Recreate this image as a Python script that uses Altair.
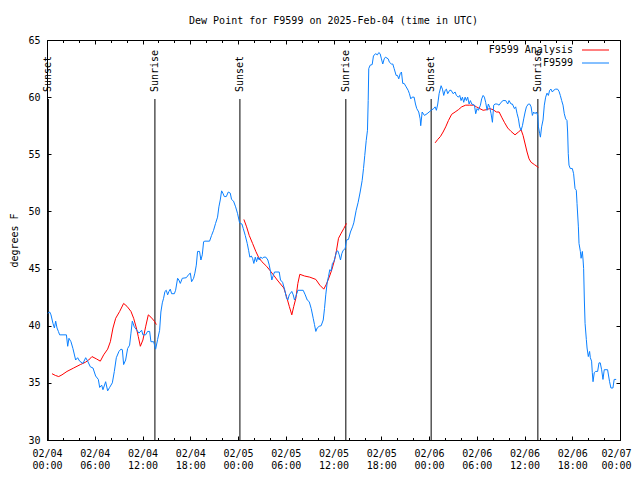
import altair as alt
import pandas as pd

# ---------------- data (hours after 2025-02-04 00:00 UTC, dew point in F) ----------------
obs_hours = [0.09, 0.34, 0.5, 0.75, 0.93, 1.09, 1.26, 1.43, 1.59, 2.44, 2.6, 2.76, 3.01, 3.26, 3.6, 3.85,
             4.1, 4.52, 4.86, 5.11, 5.45, 5.78, 6.11, 6.45, 6.62, 6.87, 7.03, 7.37, 7.62, 7.87, 8.21, 8.46,
             8.71, 9.04, 9.29, 9.47, 9.63, 9.88, 10.13, 10.38, 10.55, 10.72, 10.97, 11.3, 11.55, 11.89, 12.05,
             12.39, 12.64, 12.9, 13.06, 13.4, 13.65, 13.9, 14.15, 14.31, 14.49, 14.65, 14.82, 14.99, 15.16,
             15.32, 15.49, 15.66, 16.0, 16.16, 16.41, 16.57, 16.75, 17.0, 17.5, 17.83, 18.01, 18.17, 18.42,
             18.58, 18.76, 18.92, 19.17, 19.34, 19.51, 19.68, 19.84, 20.43, 20.68, 20.93, 21.18, 21.43, 21.6,
             21.77, 21.94, 22.1, 22.28, 22.53, 22.78, 23.03, 23.19, 23.44, 23.7, 23.95, 24.2, 24.49, 24.66,
             24.91, 25.16, 25.33, 25.49, 25.67, 25.83, 25.99, 26.17, 26.33, 26.49, 26.67, 26.83, 27.08, 27.25,
             27.5, 27.75, 27.93, 28.09, 28.25, 28.43, 28.59, 29.18, 29.34, 29.6, 29.85, 30.1, 30.26, 30.44,
             30.6, 30.76, 30.94, 31.1, 31.27, 31.52, 32.19, 32.45, 32.7, 32.95, 33.2, 33.45, 33.61, 33.78,
             33.95, 34.2, 34.45, 34.71, 34.87, 35.03, 35.21, 35.37, 35.53, 35.71, 35.87, 36.04, 36.21, 36.38,
             36.54, 36.72, 36.88, 37.04, 37.22, 37.47, 37.63, 37.88, 38.13, 38.39, 38.55, 38.85, 39.1, 39.35,
             39.6, 39.77, 39.93, 40.11, 40.27, 40.36, 40.43, 40.61, 40.86, 41.02, 41.27, 41.52, 41.69, 41.86,
             42.02, 42.19, 42.37, 42.53, 42.87, 43.03, 43.28, 43.45, 43.62, 43.87, 44.04, 44.2, 44.38, 44.54,
             44.7, 44.88, 45.13, 45.38, 45.54, 45.71, 45.88, 46.13, 46.3, 46.46, 46.71, 46.89, 46.96, 47.14,
             47.43, 47.76, 48.01, 48.27, 48.59, 48.77, 48.93, 49.1, 49.27, 49.52, 49.69, 49.85, 50.03, 50.19,
             50.35, 50.6, 50.78, 51.03, 51.28, 51.44, 51.69, 51.86, 52.03, 52.2, 52.36, 52.54, 52.7, 52.86,
             53.04, 53.2, 53.37, 53.71, 53.87, 54.04, 54.21, 54.46, 54.62, 54.8, 54.96, 55.12, 55.3, 55.46,
             55.63, 55.8, 55.97, 56.13, 56.3, 56.56, 56.81, 57.06, 57.31, 57.64, 57.89, 58.06, 58.31, 58.48,
             58.73, 58.89, 59.07, 59.24, 59.39, 59.57, 59.74, 59.9, 60.08, 60.24, 60.49, 60.65, 60.83, 60.99,
             61.15, 61.33, 61.49, 61.66, 61.75, 61.91, 62.0, 62.15, 62.33, 62.49, 62.66, 62.83, 63.0, 63.16,
             63.33, 63.5, 63.66, 63.91, 64.16, 64.34, 64.5, 64.67, 64.84, 65.0, 65.17, 65.34, 65.42, 65.5,
             65.59, 65.76, 66.01, 66.17, 66.35, 66.51, 66.6, 66.77, 66.85, 67.02, 67.11, 67.27, 67.36, 67.43,
             67.52, 67.61, 67.77, 67.86, 68.02, 68.18, 68.27, 68.43, 68.52, 68.61, 68.77, 68.94, 69.19, 69.36,
             69.52, 69.69, 69.86, 70.02, 70.44, 70.69, 70.86, 71.11, 71.27, 71.52]
obs_values = [41.1, 41.2, 40.95, 40.2, 39.8, 40.4, 39.8, 39.5, 39.2, 39.2, 38.2, 38.9, 38.6, 38.0, 37.0, 37.2,
              36.9, 36.7, 37.2, 36.9, 36.4, 36.3, 35.6, 35.3, 34.6, 34.8, 34.4, 35.1, 34.3, 34.6, 35.0, 36.0,
              37.2, 37.75, 37.95, 37.9, 36.6, 37.0, 38.0, 38.3, 39.35, 40.4, 39.9, 39.6, 39.35, 39.6, 39.2,
              39.2, 39.5, 39.5, 38.6, 38.6, 37.95, 38.8, 39.6, 41.2, 42.0, 42.4, 43.0, 43.1, 42.7,
              43.0, 43.2, 42.8, 42.8, 43.1, 44.15, 44.0, 43.7, 44.15, 44.2, 44.5, 44.6, 43.85, 44.15,
              44.6, 45.3, 46.5, 46.5, 45.75, 46.2, 47.35, 47.4, 47.4, 47.9, 48.35, 48.95, 49.5, 50.4,
              51.0, 51.8, 51.6, 51.3, 51.3, 51.7, 51.6, 51.05, 50.9, 50.4, 49.8, 49.0, 48.9, 48.5,
              47.9, 47.2, 46.6, 46.0, 46.1, 45.9, 45.45, 46.0, 45.6, 46.0, 45.75, 46.0, 45.9, 46.0,
              46.0, 45.75, 45.3, 44.7, 44.0, 44.4, 44.7, 44.7, 44.0, 43.8, 43.2, 42.4, 42.25, 42.7,
              42.85, 43.0, 42.7, 42.25, 42.55, 43.1, 43.1, 42.7, 42.25, 42.1, 41.5, 40.65, 40.1, 39.5,
              39.8, 39.95, 40.0, 40.5, 41.5, 42.7, 43.8, 44.3, 44.9, 44.8, 45.45, 45.6, 46.0, 46.5,
              46.55, 46.2, 45.75, 46.3, 46.6, 46.75, 47.5, 47.55, 48.2, 48.65, 49.0, 50.1, 50.8, 51.7,
              52.7, 53.75, 54.9, 56.2, 57.1, 59.7, 62.5, 62.8, 62.85, 63.6, 63.8, 63.7, 63.9, 63.8,
              63.35, 62.9, 63.35, 63.5, 63.35, 63.05, 62.9, 62.9, 62.5, 61.9, 61.9, 61.6, 62.05, 62.2,
              61.2, 61.2, 60.9, 60.6, 60.3, 59.85, 60.0, 60.0, 59.4, 59.0, 58.7, 58.1, 57.5, 58.7,
              58.4, 58.55, 58.7, 58.85, 59.0, 59.15, 58.85, 59.4, 60.3, 61.0, 60.7, 60.15, 60.6, 60.7,
              60.3, 60.6, 60.6, 60.3, 60.45, 60.15, 60.0, 60.15, 59.7, 60.0, 59.55, 60.0, 59.7, 60.0,
              59.4, 59.7, 59.4, 59.3, 58.55, 59.0, 58.85, 59.3, 59.85, 60.15, 60.0, 59.55, 58.85, 59.4,
              59.1, 58.55, 57.8, 59.3, 59.4, 59.4, 59.3, 59.55, 59.7, 59.7, 59.4, 59.7, 59.4, 59.4,
              59.0, 59.15, 58.55, 58.1, 57.4, 57.1, 57.5, 58.1, 58.7, 59.15, 59.4, 59.4, 59.15, 58.4,
              58.7, 58.55, 58.7, 58.4, 57.4, 56.8, 56.5, 57.4, 58.0, 59.3, 60.0, 60.35, 60.15, 60.6,
              60.7, 60.45, 60.6, 60.7, 60.7, 60.5, 60.15, 59.7, 59.3, 58.55, 58.1, 57.95, 56.95, 55.05,
              54.05, 53.75, 53.75, 53.3, 52.0, 51.85, 50.7, 48.65, 47.2, 46.5, 45.9, 46.5, 45.75, 45.0,
              42.25, 40.2, 38.8, 38.05, 37.3, 37.75, 37.2, 36.9, 35.9, 35.1, 35.9, 36.0, 36.0, 36.75,
              36.75, 36.15, 35.3, 36.15, 36.15, 35.1, 34.55, 34.55, 35.3, 35.3]

ana1_hours = [0.63, 1.05, 1.47, 1.88, 2.51, 3.35, 4.19, 4.82, 5.24, 5.65, 6.2, 6.7, 7.12, 7.62, 7.96, 8.29,
              8.63, 9.13, 9.63, 10.05, 10.55, 10.89, 11.23, 11.47, 11.73, 12.05, 12.39, 12.73, 13.06, 13.49, 13.74]
ana1_values = [35.8, 35.65, 35.55, 35.7, 36.0, 36.3, 36.6, 36.8, 37.0, 37.3, 37.1, 36.9, 37.45, 37.95, 38.6, 39.8,
               40.65, 41.25, 41.95, 41.7, 41.25, 40.65, 39.8, 39.05, 38.2, 38.75, 39.9, 40.95, 40.75, 40.4, 40.1]
ana2_hours = [24.74, 25.08, 25.41, 25.83, 26.24, 26.58, 27.0, 27.59, 28.0, 28.5, 28.93, 29.34, 29.76, 30.1, 30.44,
              30.76, 31.01, 31.27, 31.52, 31.77, 32.36, 33.02, 33.78, 34.28, 34.78, 35.12, 35.46, 35.79, 36.13,
              36.38, 36.63, 36.97, 37.29, 37.63]
ana2_values = [49.3, 48.65, 47.9, 47.2, 46.5, 46.0, 45.6, 45.2, 44.85, 44.4, 44.0, 43.65, 43.3, 42.55, 41.7,
               40.95, 41.7, 42.4, 43.7, 44.5, 44.35, 44.25, 44.05, 43.55, 43.2, 43.65, 44.25, 44.9, 45.75,
               46.6, 47.65, 48.1, 48.5, 48.95]
ana3_hours = [48.77, 49.1, 49.43, 49.77, 50.1, 50.44, 50.85, 51.28, 51.69, 52.11, 52.61, 53.11, 53.62, 53.96,
              54.37, 54.8, 55.21, 55.63, 56.05, 56.47, 56.81, 57.13, 57.47, 57.89, 58.31, 58.81, 59.24, 59.57,
              59.82, 60.08, 60.32, 60.57, 60.83, 61.24, 61.75]
ana3_values = [56.0, 56.3, 56.55, 56.95, 57.4, 57.95, 58.5, 58.7, 58.9, 59.15, 59.3, 59.3, 59.3, 59.15,
               59.0, 58.85, 58.9, 59.0, 58.9, 58.7, 58.7, 58.25, 57.8, 57.3, 57.0, 56.7, 56.95, 57.15,
               56.65, 55.9, 55.2, 54.6, 54.3, 54.1, 53.85]

sun_hours = [0.17, 13.56, 24.24, 37.55, 48.27, 61.68]
sun_labels = ["Sunset", "Sunrise", "Sunset", "Sunrise", "Sunset", "Sunrise"]

series_names = ["F9599 Analysis", "F9599"]

tick_hours = list(range(0, 73, 6))
tick_dates = ["02/04", "02/04", "02/04", "02/04", "02/05", "02/05", "02/05", "02/05",
              "02/06", "02/06", "02/06", "02/06", "02/07"]
tick_times = ["00:00", "06:00", "12:00", "18:00", "00:00", "06:00", "12:00", "18:00",
              "00:00", "06:00", "12:00", "18:00", "00:00"]
minor_hours = list(range(0, 73, 2))
y_ticks = [30, 35, 40, 45, 50, 55, 60, 65]

TITLE = "Dew Point for F9599 on 2025-Feb-04 (time in UTC)"
FONT = "DejaVu Sans Mono"
RED = "#ff0000"
BLUE = "#0a80ff"

# ---------------- frames ----------------
df_obs = pd.DataFrame({"h": obs_hours, "v": obs_values})
df_ana = pd.concat([
    pd.DataFrame({"h": ana1_hours, "v": ana1_values, "seg": 1}),
    pd.DataFrame({"h": ana2_hours, "v": ana2_values, "seg": 2}),
    pd.DataFrame({"h": ana3_hours, "v": ana3_values, "seg": 3}),
])
df_sun = pd.DataFrame({"h": sun_hours, "label": sun_labels})
df_frame = pd.DataFrame({"h": [0, 72], "v": [30, 65]})

lab_arr = "[" + ",".join(f"['{d}','{t}']" for d, t in zip(tick_dates, tick_times)) + "]"
label_expr = f"{lab_arr}[round(datum.value / 6)]"

xs = alt.Scale(domain=[0, 72], nice=False, zero=False)
ys = alt.Scale(domain=[30, 65], nice=False, zero=False)


def X(axis):
    return alt.X("h:Q", scale=xs, axis=axis)


def Y(axis):
    return alt.Y("v:Q", scale=ys, axis=axis)


def tick_axis(orient, values, size):
    return alt.Axis(orient=orient, values=values, offset=-size, tickSize=size, labels=False,
                    domain=False, grid=False, title=None, tickColor="black", tickWidth=1)


x_label_axis = alt.Axis(orient="bottom", values=tick_hours, labelExpr=label_expr, ticks=False, tickSize=0,
                        domain=False, grid=False, title=None, labelPadding=8, labelLineHeight=12,
                        labelFlush=False, labelOverlap=False, labelAngle=0,
                        labelOffset={"condition": {"test": "datum.value == 72", "value": -4}, "value": 0})
y_label_axis = alt.Axis(orient="left", values=y_ticks, ticks=False, tickSize=0, domain=False, grid=False,
                        labelPadding=7, title="degrees F", titleX=-33, titleY=200, titleAngle=270,
                        titleAlign="center", titleBaseline="middle")

sun_rules = alt.Chart(df_sun).mark_rule(color="black", strokeWidth=1).encode(
    x=X(tick_axis("bottom", tick_hours, 4)), y=alt.value(59), y2=alt.value(400))
sun_text = alt.Chart(df_sun).mark_text(angle=270, align="left", baseline="middle", color="black",
                                       font=FONT, fontSize=10).encode(
    x=X(tick_axis("top", tick_hours, 4)), y=alt.value(52), text="label:N")
analysis = alt.Chart(df_ana).mark_line(color=RED, strokeWidth=1).encode(
    x=X(tick_axis("bottom", minor_hours, 2.5)), y=Y(tick_axis("left", y_ticks, 4)), detail="seg:N")
observed = alt.Chart(df_obs).mark_line(color=BLUE, strokeWidth=1).encode(
    x=X(x_label_axis), y=Y(y_label_axis))
frame_ticks = alt.Chart(df_frame).mark_point(opacity=0).encode(
    x=X(tick_axis("top", minor_hours, 2.5)), y=Y(tick_axis("right", y_ticks, 4)))

legend_layers = []
for i, (name, col) in enumerate(zip(series_names, [RED, BLUE])):
    dfl = pd.DataFrame({"name": [name]})
    legend_layers.append(alt.Chart(dfl).mark_text(align="right", baseline="middle", font=FONT, fontSize=10,
                                                  color="black").encode(
        x=alt.value(526), y=alt.value(10 + 13 * i), text="name:N"))
    legend_layers.append(alt.Chart(dfl).mark_rule(color=col, strokeWidth=1).encode(
        x=alt.value(535), x2=alt.value(562), y=alt.value(10 + 13 * i)))

chart = alt.layer(sun_rules, sun_text, analysis, observed, frame_ticks, *legend_layers).resolve_axis(
    x="independent", y="independent"
).properties(
    width=573, height=400,
    title=alt.TitleParams(TITLE, anchor="middle", offset=9),
    autosize=alt.AutoSizeParams(type="none"),
    padding={"left": 39, "top": 32, "right": 12, "bottom": 36},
).configure_view(stroke="black", strokeWidth=1).configure_axis(
    labelFont=FONT, labelFontSize=10, labelColor="black", titleFont=FONT, titleFontSize=10,
    titleFontWeight="normal", titleColor="black", grid=False
).configure_title(font=FONT, fontSize=10, fontWeight="normal", color="black")

chart.save("out.html", embed_options={"renderer": "svg", "actions": False})
